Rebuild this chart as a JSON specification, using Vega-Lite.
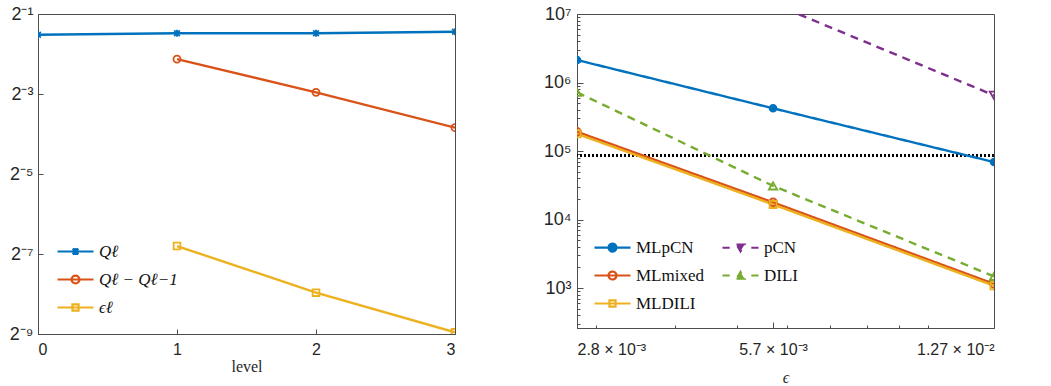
{
  "$schema": "https://vega.github.io/schema/vega-lite/v6.json",
  "padding": {"left": 8, "top": 4, "right": 2, "bottom": 2},
  "background": "white",
  "resolve": {
    "scale": {"color": "independent", "strokeDash": "independent", "x": "independent", "y": "independent"},
    "legend": {"color": "independent", "strokeDash": "independent"}
  },
  "config": {
    "view": {"stroke": "#4d4d4d", "strokeWidth": 1},
    "axis": {
      "labelFont": "Liberation Sans", "labelFontSize": 16, "labelColor": "#262626",
      "titleFont": "Liberation Serif", "titleFontSize": 16, "titleFontWeight": "normal", "titleColor": "#262626",
      "domainColor": "#4d4d4d", "tickColor": "#4d4d4d", "grid": false
    },
    "legend": {
      "labelFont": "Liberation Serif", "labelFontSize": 17, "labelColor": "#111",
      "symbolStrokeWidth": 2.2, "symbolSize": 1296, "labelOffset": 4
    }
  },
  "hconcat": [
    {
      "width": 417, "height": 320,
      "data": {"values": [
        {"level": 0, "value": 0.349, "series": "Qℓ"},
        {"level": 1, "value": 0.358, "series": "Qℓ"},
        {"level": 2, "value": 0.358, "series": "Qℓ"},
        {"level": 3, "value": 0.368, "series": "Qℓ"},
        {"level": 1, "value": 0.229, "series": "Qℓ − Qℓ−1"},
        {"level": 2, "value": 0.1286, "series": "Qℓ − Qℓ−1"},
        {"level": 3, "value": 0.0698, "series": "Qℓ − Qℓ−1"},
        {"level": 1, "value": 0.00897, "series": "ϵℓ"},
        {"level": 2, "value": 0.0040, "series": "ϵℓ"},
        {"level": 3, "value": 0.00201, "series": "ϵℓ"}
      ]},
      "encoding": {
        "x": {"field": "level", "type": "quantitative", "title": "level",
              "scale": {"domain": [0, 3], "nice": false},
              "axis": {"values": [0, 1, 2, 3], "tickSize": -5, "labelPadding": 12, "titlePadding": 1}},
        "y": {"field": "value", "type": "quantitative", "title": null,
              "scale": {"type": "log", "base": 2, "domain": [0.001953125, 0.5], "nice": false},
              "axis": {"values": [0.5, 0.125, 0.03125, 0.0078125, 0.001953125], "tickSize": -5, "labelPadding": 10, "labelFontSize": 18,
                       "labelExpr": "datum.value > 0.4 ? '2⁻¹' : datum.value > 0.1 ? '2⁻³' : datum.value > 0.02 ? '2⁻⁵' : datum.value > 0.005 ? '2⁻⁷' : '2⁻⁹'"}},
        "color": {"field": "series", "type": "nominal",
                  "scale": {"domain": ["Qℓ", "Qℓ − Qℓ−1", "ϵℓ"], "range": ["#0072BD", "#D95319", "#EDB120"]},
                  "legend": {"title": null, "orient": "bottom-left", "offset": 18, "labelFontStyle": "italic", "rowPadding": -6,
                             "encode": {"symbols": {"update": {
                               "shape": {"signal": "datum.value === 'Qℓ' ? 'M-1,0L1,0M-0.16,-0.16L0.16,0.16M-0.16,0.16L0.16,-0.16M0,-0.2L0,0.2' : datum.value === 'ϵℓ' ? 'M-1,0L1,0M-0.17,-0.17L0.17,-0.17L0.17,0.17L-0.17,0.17Z' : 'M-1,0L1,0M-0.22,0A0.22,0.22 0 1,0 0.22,0A0.22,0.22 0 1,0 -0.22,0Z'"},
                               "fill": {"value": "transparent"},
                               "strokeDash": {"value": []}
                             }}}}}
      },
      "layer": [
        {"mark": {"type": "line", "strokeWidth": 2.4, "clip": true}},
        {"transform": [{"filter": {"field": "series", "equal": "Qℓ"}}],
         "mark": {"type": "point", "shape": "M-0.8,-0.8L0.8,0.8M-0.8,0.8L0.8,-0.8M0,-1L0,1", "filled": false, "strokeWidth": 1.8, "size": 50, "clip": true, "opacity": 1}},
        {"transform": [{"filter": {"field": "series", "equal": "Qℓ − Qℓ−1"}}],
         "mark": {"type": "point", "shape": "circle", "filled": false, "strokeWidth": 1.8, "size": 50, "clip": true, "opacity": 1}},
        {"transform": [{"filter": {"field": "series", "equal": "ϵℓ"}}],
         "mark": {"type": "point", "shape": "square", "filled": false, "strokeWidth": 1.8, "size": 45, "clip": true, "opacity": 1}}
      ]
    },
    {
      "width": 417, "height": 314,
      "data": {"values": [
        {"eps": 0.0028, "cost": 2130000, "method": "MLpCN"},
        {"eps": 0.0057, "cost": 420000, "method": "MLpCN"},
        {"eps": 0.0127, "cost": 69000, "method": "MLpCN"},
        {"eps": 0.0028, "cost": 191000, "method": "MLmixed"},
        {"eps": 0.0057, "cost": 17800, "method": "MLmixed"},
        {"eps": 0.0127, "cost": 1150, "method": "MLmixed"},
        {"eps": 0.0028, "cost": 178000, "method": "MLDILI"},
        {"eps": 0.0057, "cost": 16600, "method": "MLDILI"},
        {"eps": 0.0127, "cost": 1080, "method": "MLDILI"},
        {"eps": 0.0057, "cost": 14200000, "method": "pCN"},
        {"eps": 0.0127, "cost": 650000, "method": "pCN"},
        {"eps": 0.0028, "cost": 720000, "method": "DILI"},
        {"eps": 0.0057, "cost": 31000, "method": "DILI"},
        {"eps": 0.0127, "cost": 1480, "method": "DILI"}
      ]},
      "encoding": {
        "x": {"field": "eps", "type": "quantitative", "title": "ϵ",
              "scale": {"type": "log", "domain": [0.0028, 0.0127], "nice": false},
              "axis": {"values": [0.0028, 0.003, 0.004, 0.005, 0.0057, 0.006, 0.007, 0.008, 0.009, 0.01, 0.0127],
                       "tickSize": {"condition": {"test": "datum.value == 0.0028 || datum.value == 0.0057 || datum.value == 0.0127", "value": -6}, "value": -3},
                       "labelPadding": 19, "titlePadding": 12, "titleFontStyle": "italic",
                       "labelExpr": "datum.value == 0.0028 ? '2.8 × 10⁻³' : datum.value == 0.0057 ? '5.7 × 10⁻³' : datum.value == 0.0127 ? '1.27 × 10⁻²' : ''"}},
        "y": {"field": "cost", "type": "quantitative", "title": null,
              "scale": {"type": "log", "domain": [261, 10000000], "nice": false},
              "axis": {"values": [300, 400, 500, 600, 700, 800, 900, 1000, 2000, 3000, 4000, 5000, 6000, 7000, 8000, 9000, 10000, 20000, 30000, 40000, 50000, 60000, 70000, 80000, 90000, 100000, 200000, 300000, 400000, 500000, 600000, 700000, 800000, 900000, 1000000, 2000000, 3000000, 4000000, 5000000, 6000000, 7000000, 8000000, 9000000, 10000000],
                       "tickSize": {"condition": {"test": "datum.value == 1000 || datum.value == 10000 || datum.value == 100000 || datum.value == 1000000 || datum.value == 10000000", "value": -6}, "value": -3},
                       "labelPadding": 12, "labelFontSize": 18,
                       "labelExpr": "datum.value == 1000 ? '10³' : datum.value == 10000 ? '10⁴' : datum.value == 100000 ? '10⁵' : datum.value == 1000000 ? '10⁶' : datum.value == 10000000 ? '10⁷' : ''"}},
        "color": {"field": "method", "type": "nominal",
                  "scale": {"domain": ["MLpCN", "MLmixed", "MLDILI", "pCN", "DILI"], "range": ["#0072BD", "#D95319", "#EDB120", "#7E2F8E", "#77AC30"]},
                  "legend": {"title": null, "orient": "bottom-left", "offset": 16, "columns": 2, "columnPadding": 14, "rowPadding": -5,
                             "encode": {"symbols": {"update": {
                               "shape": {"signal": "datum.value === 'MLpCN' || datum.value === 'MLmixed' ? 'M-1,0L1,0M-0.22,0A0.22,0.22 0 1,0 0.22,0A0.22,0.22 0 1,0 -0.22,0Z' : datum.value === 'MLDILI' ? 'M-1,0L1,0M-0.17,-0.17L0.17,-0.17L0.17,0.17L-0.17,0.17Z' : datum.value === 'pCN' ? 'M-1,0L-0.6,0M0.6,0L1,0M-0.22,-0.18L0.22,-0.18L0,0.2Z' : 'M-1,0L-0.6,0M0.6,0L1,0M-0.22,0.18L0.22,0.18L0,-0.2Z'"},
                               "fill": {"signal": "datum.value === 'MLpCN' ? '#0072BD' : datum.value === 'pCN' ? '#7E2F8E' : datum.value === 'DILI' ? '#77AC30' : 'transparent'"},
                               "strokeDash": {"value": []}
                             }}}}}
      },
      "layer": [
        {
          "mark": {"type": "rule", "color": "black", "strokeWidth": 2, "strokeDash": [2, 2]},
          "encoding": {"y": {"datum": 85700, "type": "quantitative"}, "x": null, "color": null}
        },
        {
          "mark": {"type": "line", "strokeWidth": 2.4, "clip": true},
          "encoding": {
            "strokeDash": {"field": "method", "type": "nominal",
                           "scale": {"domain": ["MLpCN", "MLmixed", "MLDILI", "pCN", "DILI"], "range": [[1, 0], [1, 0], [1, 0], [8, 6], [8, 6]]},
                           "legend": null}
          }
        },
        {"transform": [{"filter": {"field": "method", "equal": "MLpCN"}}],
         "mark": {"type": "point", "shape": "circle", "filled": false, "fill": "#0072BD", "strokeWidth": 1.5, "size": 50, "clip": true, "opacity": 1}},
        {"transform": [{"filter": {"field": "method", "equal": "MLmixed"}}],
         "mark": {"type": "point", "shape": "circle", "filled": false, "strokeWidth": 1.8, "size": 60, "clip": true, "opacity": 1}},
        {"transform": [{"filter": {"field": "method", "equal": "MLDILI"}}],
         "mark": {"type": "point", "shape": "square", "filled": false, "strokeWidth": 1.8, "size": 50, "clip": true, "opacity": 1}},
        {"transform": [{"filter": {"field": "method", "equal": "pCN"}}],
         "mark": {"type": "point", "shape": "triangle-down", "filled": false, "strokeWidth": 1.8, "size": 70, "clip": true, "opacity": 1}},
        {"transform": [{"filter": {"field": "method", "equal": "DILI"}}],
         "mark": {"type": "point", "shape": "triangle-up", "filled": false, "strokeWidth": 1.8, "size": 70, "clip": true, "opacity": 1}}
      ]
    }
  ],
  "spacing": 86
}
